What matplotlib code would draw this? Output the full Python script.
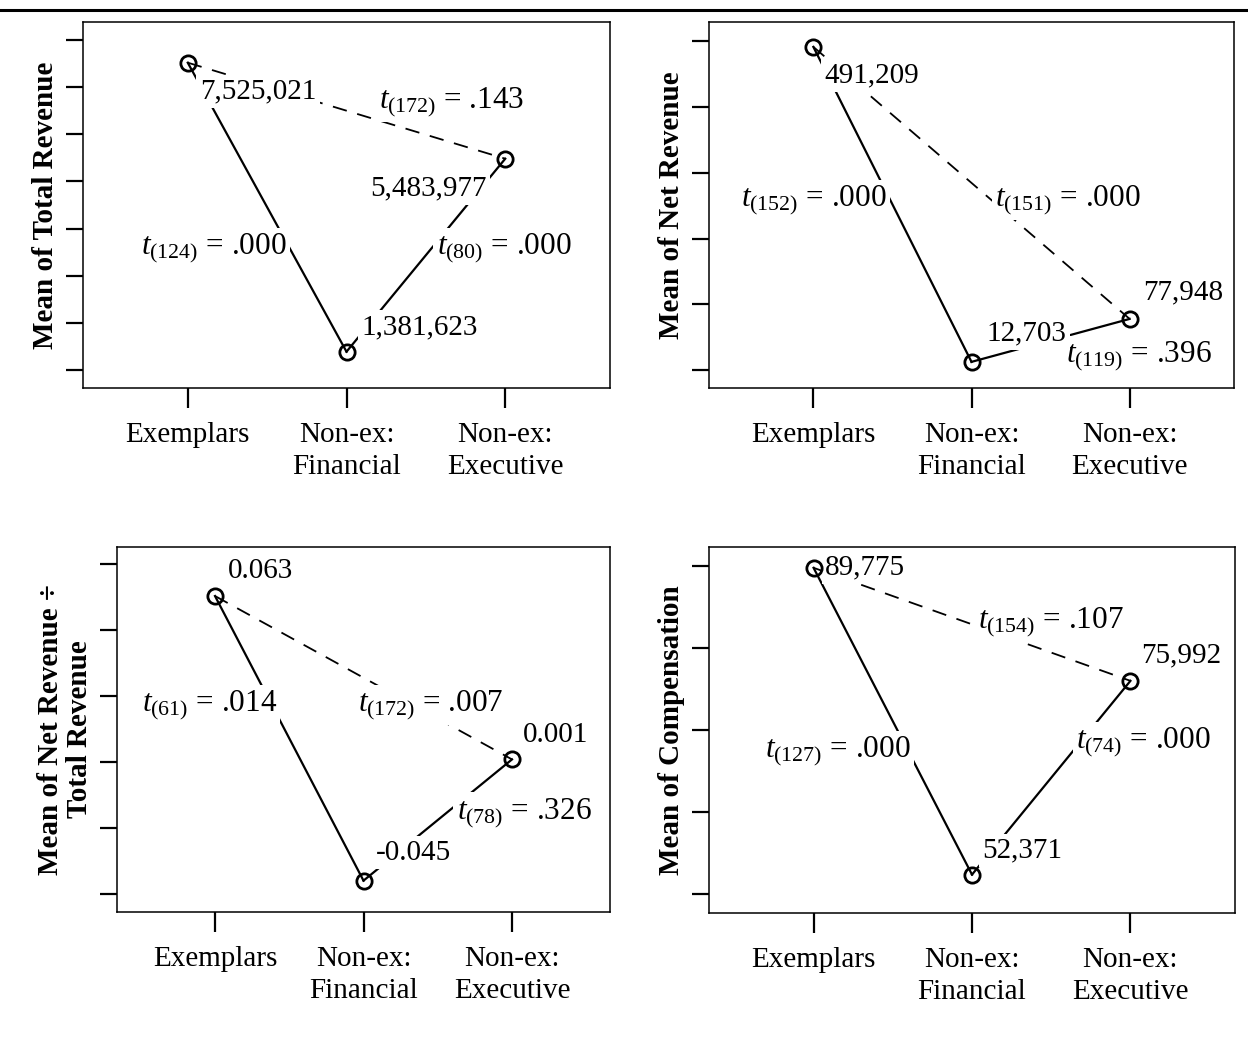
import matplotlib
matplotlib.use("Agg")
import matplotlib.pyplot as plt
from matplotlib.lines import Line2D

# ── data ──────────────────────────────────────────────────────────────────────

groups = ["Exemplars", "Non-ex:\nFinancial", "Non-ex:\nExecutive"]
xpos = [1, 2, 3]

total_rev = [7525021, 1381623, 5483977]
net_rev   = [491209, 12703, 77948]
ratio     = [0.063, -0.045, 0.001]
comp      = [89775, 52371, 75992]

# t-test labels: (ex vs fin, fin vs exec, ex vs exec)
t_total = [("124", ".000"), ("80", ".000"), ("172", ".143")]
t_net   = [("152", ".000"), ("119", ".396"), ("151", ".000")]
t_ratio = [("61", ".014"), ("78", ".326"), ("172", ".007")]
t_comp  = [("127", ".000"), ("74", ".000"), ("154", ".107")]

val_total = ["7,525,021", "1,381,623", "5,483,977"]
val_net   = ["491,209", "12,703", "77,948"]
val_ratio = ["0.063", "-0.045", "0.001"]
val_comp  = ["89,775", "52,371", "75,992"]

# ── style ─────────────────────────────────────────────────────────────────────

plt.rcParams["font.family"] = ["Liberation Serif", "DejaVu Serif"]
plt.rcParams["mathtext.fontset"] = "custom"
plt.rcParams["mathtext.rm"] = "Liberation Serif"
plt.rcParams["mathtext.it"] = "Liberation Serif:italic"

VAL_FS  = 21
T_FS    = 22.5
TICK_FS = 21
LAB_FS  = 21


def t_text(df, p):
    return rf"$t_{{({df})}}$ = {p}"


def label(ax, x, y, s, fs):
    ax.text(x, y, s, transform=ax.transAxes, fontsize=fs,
            ha="center", va="center", zorder=10, clip_on=False,
            bbox=dict(facecolor="white", edgecolor="none", pad=2.5))


def panel(ax, vals, ylim, yticks, ylabel, vlabels, vpos, tlabels, tpos):
    # lines: ex-fin, fin-exec solid; ex-exec dashed
    ax.plot(xpos[:2], vals[:2], color="black", lw=1.6, zorder=3)
    ax.plot(xpos[1:], vals[1:], color="black", lw=1.6, zorder=3)
    ax.plot([xpos[0], xpos[2]], [vals[0], vals[2]], color="black", lw=1.3,
            dashes=(8, 6), zorder=3)
    ax.plot(xpos, vals, "o", ms=11, mfc="none", mec="black", mew=2,
            zorder=12, clip_on=False)

    for (df, p), (fx, fy) in zip(tlabels, tpos):
        label(ax, fx, fy, t_text(df, p), T_FS)
    for s, (fx, fy) in zip(vlabels, vpos):
        label(ax, fx, fy, s, VAL_FS)

    ax.set_xlim(0.34, 3.66)
    ax.set_ylim(*ylim)
    ax.set_xticks(xpos)
    ax.set_xticklabels(groups, fontsize=TICK_FS, linespacing=1.3)
    ax.set_yticks(yticks)
    ax.set_yticklabels([])
    ax.tick_params(axis="x", direction="out", length=14.5, width=1.6, pad=10)
    ax.tick_params(axis="y", direction="out", length=12.5, width=1.6)
    for sp in ax.spines.values():
        sp.set_linewidth(1.1)
    ax.set_ylabel(ylabel, fontsize=LAB_FS, fontweight="bold", labelpad=1,
                  linespacing=1.1)


# ── figure ────────────────────────────────────────────────────────────────────

W, H = 1248, 1055
fig = plt.figure(figsize=(W / 100, H / 100), dpi=100)


def box(l, t, r, b):
    return [l / W, 1 - b / H, (r - l) / W, (b - t) / H]


ax1 = fig.add_axes(box(83, 22, 610, 388))
ax2 = fig.add_axes(box(709, 22, 1234, 388))
ax3 = fig.add_axes(box(117, 547, 610, 912))
ax4 = fig.add_axes(box(709, 547, 1235, 913))

panel(ax1, total_rev, (0.61e6, 8.39e6), [i * 1e6 for i in range(1, 9)],
      "Mean of Total Revenue", val_total,
      [(0.332, 0.810), (0.639, 0.167), (0.655, 0.546)],
      t_total, [(0.249, 0.383), (0.799, 0.383), (0.700, 0.781)])

panel(ax2, net_rev, (-27000, 529000), [i * 1e5 for i in range(0, 6)],
      "Mean of Net Revenue", val_net,
      [(0.310, 0.855), (0.604, 0.150), (0.903, 0.260)],
      t_net, [(0.200, 0.514), (0.819, 0.088), (0.684, 0.514)])

panel(ax3, ratio, (-0.0569, 0.0816), [-0.05, -0.025, 0, 0.025, 0.05, 0.075],
      "Mean of Net Revenue \u00f7\nTotal Revenue", val_ratio,
      [(0.292, 0.935), (0.601, 0.162), (0.890, 0.485)],
      t_ratio, [(0.187, 0.567), (0.826, 0.272), (0.636, 0.567)])

panel(ax4, comp, (47689, 92311), [i * 1e4 for i in range(5, 10)],
      "Mean of Compensation", val_comp,
      [(0.297, 0.943), (0.596, 0.172), (0.898, 0.704)],
      t_comp, [(0.245, 0.443), (0.826, 0.467), (0.650, 0.795)])

# rule across the top of the page
fig.add_artist(Line2D([0, 1], [1 - 10 / H, 1 - 10 / H], color="black",
                      lw=2.2, transform=fig.transFigure))

fig.savefig("out.png", dpi=100)
